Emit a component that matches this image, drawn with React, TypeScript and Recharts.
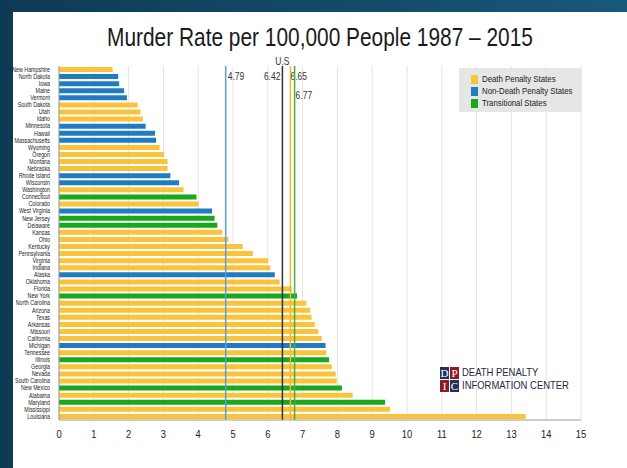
import {
  BarChart,
  Bar,
  XAxis,
  YAxis,
  CartesianGrid,
  ReferenceLine,
  Cell,
} from "recharts";

const states = [
  "New Hampshire", "North Dakota", "Iowa", "Maine", "Vermont", "South Dakota",
  "Utah", "Idaho", "Minnesota", "Hawaii", "Massachusetts", "Wyoming", "Oregon",
  "Montana", "Nebraska", "Rhode Island", "Wisconsin", "Washington",
  "Connecticut", "Colorado", "West Virginia", "New Jersey", "Delaware",
  "Kansas", "Ohio", "Kentucky", "Pennsylvania", "Virginia", "Indiana",
  "Alaska", "Oklahoma", "Florida", "New York", "North Carolina", "Arizona",
  "Texas", "Arkansas", "Missouri", "California", "Michigan", "Tennessee",
  "Illinois", "Georgia", "Nevada", "South Carolina", "New Mexico", "Alabama",
  "Maryland", "Mississippi", "Louisiana",
];

const rates = [
  1.54, 1.7, 1.73, 1.87, 1.95, 2.26, 2.34, 2.41, 2.49, 2.76, 2.79, 2.89, 3.02,
  3.12, 3.12, 3.2, 3.45, 3.58, 3.95, 4.01, 4.4, 4.47, 4.55, 4.69, 4.87, 5.28,
  5.57, 6.01, 6.07, 6.2, 6.34, 6.69, 6.84, 7.11, 7.22, 7.26, 7.35, 7.45, 7.55,
  7.66, 7.68, 7.76, 7.84, 7.95, 7.98, 8.13, 8.44, 9.37, 9.51, 13.41,
];

// D = death penalty, N = no death penalty, T = transitional
const groups = [
  "D", "N", "N", "N", "N", "D", "D", "D", "N", "N", "N", "D", "D", "D", "D",
  "N", "N", "D", "T", "D", "N", "T", "T", "D", "D", "D", "D", "D", "D", "N",
  "D", "D", "T", "D", "D", "D", "D", "D", "D", "N", "D", "T", "D", "D", "D",
  "T", "D", "T", "D", "D",
];

const xTicks = [0, 1, 2, 3, 4, 5, 6, 7, 8, 9, 10, 11, 12, 13, 14, 15];

const averages = [
  { value: 4.79, color: "#5b9fd0" },
  { value: 6.42, color: "#333333" },
  { value: 6.65, color: "#f2b630" },
  { value: 6.77, color: "#4caf3c" },
];

const legendItems = [
  { key: "D", label: "Death Penalty States" },
  { key: "N", label: "Non-Death Penalty States" },
  { key: "T", label: "Transitional States" },
];

const colors: Record<string, string> = {
  D: "#f9c43b",
  N: "#1f7cc1",
  T: "#19a71b",
};

const data = states.map((s, i) => ({ state: s, rate: rates[i], group: groups[i] }));

const font = "'Liberation Sans', Arial, sans-serif";

// text drawn next to each average line: [text, dx, dy, anchor]
const lineTexts: Record<number, [string, number, number, string][]> = {
  4.79: [["4.79", 2, 14, "start"]],
  6.42: [
    ["U.S", 0, -1, "middle"],
    ["6.42", -2, 14, "end"],
  ],
  6.65: [["6.65", 0, 14, "start"]],
  6.77: [["6.77", 1, 33, "start"]],
};

const makeLabel = (v: number) => (props: any) => {
  const vb = props.viewBox || {};
  return (
    <g>
      {lineTexts[v].map(([t, dx, dy, anchor]) => (
        <text
          key={t}
          transform={`translate(${vb.x + dx},${vb.y + dy}) scale(0.85,1)`}
          textAnchor={anchor as any}
          fontSize={10}
          fontFamily={font}
          fill="#333"
        >
          {t}
        </text>
      ))}
    </g>
  );
};

const StateTick = (props: any) => {
  const { x, y, payload } = props;
  return (
    <text
      transform={`translate(${x},${y + 2.3}) scale(0.76,1)`}
      textAnchor="end"
      fontSize={7}
      fontFamily={font}
      fill="#222"
    >
      {payload.value}
    </text>
  );
};

const NumTick = (props: any) => {
  const { x, y, payload } = props;
  return (
    <text
      transform={`translate(${x},${y + 10}) scale(0.85,1)`}
      textAnchor="middle"
      fontSize={11}
      fontFamily={font}
      fill="#222"
    >
      {payload.value}
    </text>
  );
};

export default function App() {
  return (
    <div
      style={{
        position: "absolute",
        left: 0,
        top: 0,
        width: 627,
        height: 468,
        background: "linear-gradient(90deg, #0e3a55, #185878)",
        overflow: "hidden",
      }}
    >
      <div
        style={{
          position: "absolute",
          left: 13,
          top: 12,
          width: 614,
          height: 456,
          background: "#fff",
        }}
      />
      <div
        style={{
          position: "absolute",
          left: 0,
          top: 23,
          width: 640,
          textAlign: "center",
          fontFamily: font,
          fontSize: 25,
          color: "#1a1a1a",
          transform: "scaleX(0.835)",
          transformOrigin: "320px 0",
          whiteSpace: "nowrap",
        }}
      >
        Murder Rate per 100,000 People 1987 – 2015
      </div>
      <div style={{ position: "absolute", left: 0, top: 0 }}>
        <BarChart
          width={627}
          height={468}
          data={data}
          layout="vertical"
          margin={{ top: 66, right: 46, bottom: 18, left: 12 }}
          barSize={5}
        >
          <CartesianGrid horizontal={false} stroke="#e4e4e4" fill="#fff" />
          <XAxis
            type="number"
            domain={[0, 15]}
            ticks={xTicks}
            tickLine={false}
            axisLine={{ stroke: "#999" }}
            tick={<NumTick />}
            height={30}
            interval={0}
          />
          <YAxis
            type="category"
            dataKey="state"
            width={47}
            tickLine={false}
            axisLine={{ stroke: "#999" }}
            interval={0}
            tick={<StateTick />}
            tickMargin={3}
          />
          <Bar dataKey="rate" isAnimationActive={false}>
            {data.map((d, i) => (
              <Cell key={i} fill={colors[d.group]} />
            ))}
          </Bar>
          {averages.map((a) => (
            <ReferenceLine
              key={a.value}
              x={a.value}
              stroke={a.color}
              strokeWidth={1.5}
              label={makeLabel(a.value)}
            />
          ))}
        </BarChart>
      </div>
      <div
        style={{
          position: "absolute",
          left: 459,
          top: 68,
          background: "#e6e6e6",
          width: 123,
          height: 44,
          boxSizing: "border-box",
          padding: "5px 0 0 12px",
          fontFamily: font,
          fontSize: 9,
          color: "#222",
        }}
      >
        {legendItems.map((it) => (
          <div
            key={it.key}
            style={{ display: "flex", alignItems: "center", height: 12, whiteSpace: "nowrap" }}
          >
            <span
              style={{ width: 7, height: 9, background: colors[it.key], marginRight: 4, flex: "none" }}
            />
            <span style={{ display: "inline-block", transform: "scaleX(0.87)", transformOrigin: "0 50%" }}>
              {it.label}
            </span>
          </div>
        ))}
      </div>
      <div
        style={{
          position: "absolute",
          left: 440,
          top: 366,
          display: "flex",
          alignItems: "center",
        }}
      >
        <div
          style={{
            display: "grid",
            gridTemplateColumns: "9px 9px",
            gridTemplateRows: "12px 12px",
            gap: 1,
            fontFamily: "'Liberation Serif', serif",
            fontSize: 11,
            color: "#fff",
            textAlign: "center",
            lineHeight: "12px",
          }}
        >
          <span style={{ background: "#23315f" }}>D</span>
          <span style={{ background: "#8e1b22" }}>P</span>
          <span style={{ background: "#8e1b22" }}>I</span>
          <span style={{ background: "#23315f" }}>C</span>
        </div>
        <div
          style={{
            marginLeft: 3,
            fontFamily: font,
            fontSize: 10.5,
            lineHeight: "13px",
            color: "#1f2a44",
            whiteSpace: "nowrap",
            transform: "scaleX(0.9)",
            transformOrigin: "0 50%",
          }}
        >
          DEATH PENALTY
          <br />
          INFORMATION CENTER
        </div>
      </div>
    </div>
  );
}
